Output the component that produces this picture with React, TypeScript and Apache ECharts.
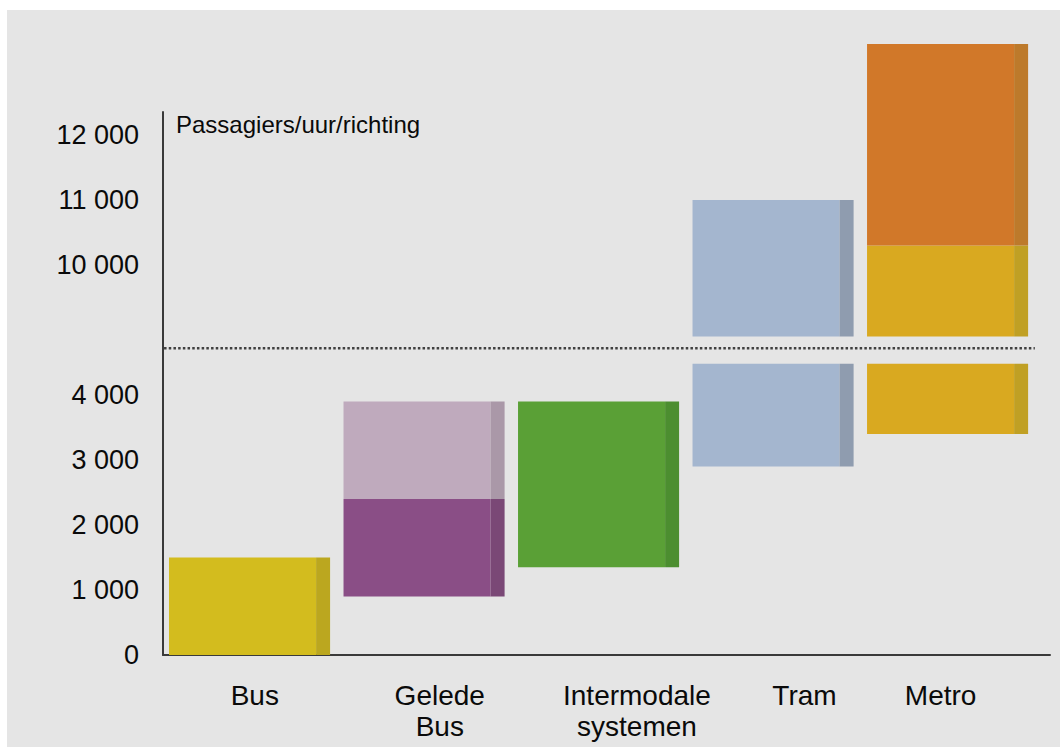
import { useEffect, useRef } from "react";
import * as echarts from "echarts";

// Transport modes on the horizontal axis
const categories = ["Bus", "Gelede\nBus", "Intermodale\nsystemen", "Tram", "Metro"];

// Capacity ranges (passengers / hour / direction); one entry per coloured block
const segCategory = [0, 1, 1, 2, 3, 4, 4];
const segLow = [0, 900, 2400, 1350, 2900, 3400, 10300];
const segHigh = [1500, 2400, 3900, 3900, 11000, 10300, 13400];
const segFront = ["#d3bc1e", "#8a4e86", "#bfaabd", "#5aa036", "#a4b6cf", "#d9a920", "#d17829"];
const segSide = ["#bba71f", "#7a4876", "#aa98a8", "#4c8e30", "#8f9caf", "#c0a024", "#bd7a2b"];

// Tick labels of the lower and upper part of the broken value axis
const lowerTicks = [0, 1000, 2000, 3000, 4000];
const upperTicks = [10000, 11000, 12000];
const yAxisTitle = "Passagiers/uur/richting";

// Axis break: values above BREAK_ABOVE are drawn SHIFT lower
const SHIFT = 4000;
const BREAK_BELOW = 4480;
const BREAK_ABOVE = 8900;
const BREAK_LINE = 4720; // axis units, where the dotted break line sits

// Layout of blocks and category labels along the x value axis
const X_MIN = -0.496;
const X_MAX = 4.587;
const BAR_WIDTH = 0.923;
const SIDE_PX = 14;
const labelPositions = [0.03, 1.09, 2.22, 3.18, 3.96];

const FONT = "'Liberation Sans', Arial, sans-serif";

function formatThousands(v: number): string {
  if (v < 1000) return String(v);
  return `${Math.floor(v / 1000)} ${String(v % 1000).padStart(3, "0")}`;
}

function toAxis(v: number): number {
  return v <= BREAK_BELOW ? v : v - SHIFT;
}

function pieces(lo: number, hi: number): [number, number][] {
  if (lo < BREAK_BELOW && hi > BREAK_ABOVE) {
    return [
      [lo, BREAK_BELOW],
      [BREAK_ABOVE - SHIFT, hi - SHIFT],
    ];
  }
  return [[toAxis(lo), toAxis(hi)]];
}

export default function App() {
  const ref = useRef<HTMLDivElement>(null);

  useEffect(() => {
    if (!ref.current) return;
    const chart = echarts.init(ref.current, null, { renderer: "svg" });

    const blocks = segCategory.map((c, i) => ({ value: [c, segLow[i], segHigh[i]] }));

    chart.setOption({
      animation: false,
      backgroundColor: "#e5e5e5",
      grid: { left: 156, right: 10, top: 102, bottom: 92, containLabel: false },
      xAxis: {
        type: "value",
        min: X_MIN,
        max: X_MAX,
        splitLine: { show: false },
        axisTick: { show: false },
        axisLine: { show: true, onZero: false, lineStyle: { color: "#3a3a3a", width: 2 } },
        axisLabel: {
          customValues: labelPositions,
          color: "#0a0a0a",
          fontSize: 28,
          lineHeight: 31,
          fontFamily: FONT,
          margin: 25,
          formatter: (v: number) => {
            const idx = labelPositions.findIndex((p) => Math.abs(p - v) < 1e-6);
            return idx >= 0 ? categories[idx] : "";
          },
        },
      },
      yAxis: {
        type: "value",
        min: 0,
        max: 8354,
        interval: 1000,
        splitLine: { show: false },
        axisTick: { show: false },
        axisLine: { show: true, onZero: false, lineStyle: { color: "#3a3a3a", width: 2 } },
        name: yAxisTitle,
        nameLocation: "end",
        nameGap: 0,
        nameTextStyle: {
          align: "left",
          verticalAlign: "top",
          fontSize: 24,
          color: "#0a0a0a",
          fontFamily: FONT,
          padding: [0, 0, 0, 13],
        },
        axisLabel: {
          customValues: [...lowerTicks, ...upperTicks.map(toAxis)],
          color: "#0a0a0a",
          fontSize: 27,
          fontFamily: FONT,
          margin: 24,
          formatter: (v: number) => formatThousands(v > BREAK_LINE ? v + SHIFT : v),
        },
      },
      series: [
        {
          type: "custom",
          clip: false,
          data: blocks,
          renderItem: (params: any, api: any) => {
            const i = params.dataIndex;
            const c = api.value(0);
            const fullW = api.size([BAR_WIDTH, 0])[0];
            const children: any[] = [];
            for (const [lo, hi] of pieces(api.value(1), api.value(2))) {
              const bottom = api.coord([c, lo]);
              const top = api.coord([c, hi]);
              const x = bottom[0] - fullW / 2;
              const h = bottom[1] - top[1];
              children.push({
                type: "rect",
                shape: { x, y: top[1], width: fullW - SIDE_PX, height: h },
                style: { fill: segFront[i] },
              });
              children.push({
                type: "rect",
                shape: { x: x + fullW - SIDE_PX, y: top[1], width: SIDE_PX, height: h },
                style: { fill: segSide[i] },
              });
            }
            return { type: "group", children };
          },
        },
        {
          type: "line",
          silent: true,
          symbol: "none",
          data: [
            [-0.49, BREAK_LINE],
            [4.5, BREAK_LINE],
          ],
          lineStyle: { color: "#404040", width: 2.5, type: [2.5, 2.2] },
        },
      ],
    });

    return () => chart.dispose();
  }, []);

  return (
    <div
      ref={ref}
      style={{ position: "absolute", left: 7, top: 10, width: 1053, height: 737 }}
    />
  );
}
